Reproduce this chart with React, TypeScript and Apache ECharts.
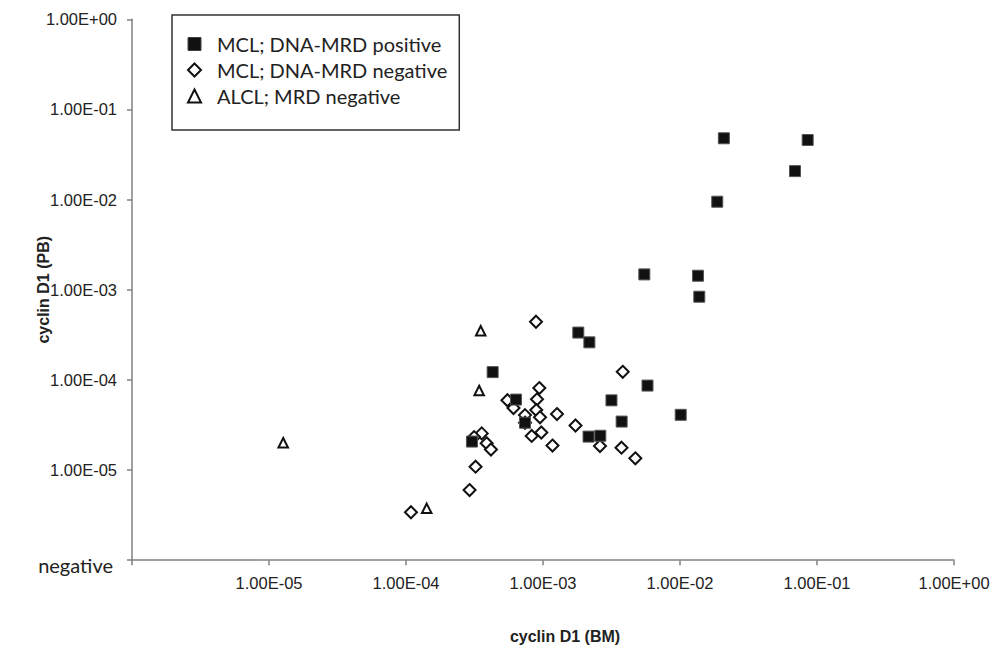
import React, { useEffect, useRef } from "react";
import * as echarts from "echarts";

// Series names (legend order)
const seriesNames = ["MCL; DNA-MRD positive", "MCL; DNA-MRD negative", "ALCL; MRD negative"];

// MCL; DNA-MRD positive (filled squares) — cyclin D1 in BM (x) and PB (y)
const mclPosBM = [0.0209, 0.0855, 0.0691, 0.0187, 0.00549, 0.01353, 0.01383, 0.00181, 0.00218, 0.00579, 0.00316, 0.01012, 0.00375, 0.00215, 0.00262, 0.000429, 0.000635, 0.000739, 0.000303];
const mclPosPB = [0.0479, 0.0458, 0.0207, 0.00947, 0.00148, 0.00143, 0.000837, 0.000335, 0.000261, 8.65e-5, 5.93e-5, 4.1e-5, 3.45e-5, 2.35e-5, 2.4e-5, 0.000122, 6.05e-5, 3.35e-5, 2.07e-5];

// MCL; DNA-MRD negative (open diamonds)
const mclNegBM = [0.000889, 0.00382, 0.00094, 0.00055, 0.000904, 0.000609, 0.000893, 0.000951, 0.001265, 0.000739, 0.001727, 0.000827, 0.000972, 0.001173, 0.002606, 0.00374, 0.00472, 0.000357, 0.000388, 0.000417, 0.000322, 0.000291, 0.0001087, 0.000314, 0.000739];
const mclNegPB = [0.000442, 0.000123, 8.12e-5, 5.95e-5, 6.09e-5, 4.88e-5, 4.63e-5, 3.85e-5, 4.18e-5, 4.07e-5, 3.12e-5, 2.39e-5, 2.61e-5, 1.87e-5, 1.85e-5, 1.77e-5, 1.35e-5, 2.55e-5, 1.98e-5, 1.69e-5, 1.09e-5, 6.0e-6, 3.4e-6, 2.32e-5, 3.35e-5];

// ALCL; MRD negative (open triangles)
const alclBM = [0.000351, 0.000342, 1.27e-5, 0.0001416];
const alclPB = [0.000351, 7.62e-5, 2.01e-5, 3.76e-6];

// Axis range; the lowest decade is the "negative" position
const axisMin = 1e-6;
const axisMax = 1;
const negativeLabel = "negative";
const xAxisTitle = "cyclin D1 (BM)";
const yAxisTitle = "cyclin D1 (PB)";

const zip = (xs: number[], ys: number[]) => xs.map((x, i) => [x, ys[i]]);

const sciLabel = (v: number) => {
  const e = Math.round(Math.log10(v));
  const sign = e >= 0 ? "+" : "-";
  return `1.00E${sign}${String(Math.abs(e)).padStart(2, "0")}`;
};

const isMin = (v: number) => Math.abs(Math.log10(v) - Math.log10(axisMin)) < 1e-6;

export default function App() {
  const ref = useRef<HTMLDivElement>(null);

  useEffect(() => {
    if (!ref.current) return;
    const chart = echarts.init(ref.current, undefined, { renderer: "svg" });
    const axisLineStyle = { color: "#808080", width: 1.5 };
    const labelFont = { fontFamily: "Liberation Sans, Arial, sans-serif", fontSize: 16.5, color: "#222" };
    const option: any = {
      animation: false,
      backgroundColor: "#ffffff",
      grid: { left: 132, right: 49, top: 19.3, bottom: 84.8, containLabel: false, outerBoundsMode: "none" },
      legend: {
        left: 172,
        top: 15,
        orient: "vertical",
        borderColor: "#333",
        borderWidth: 1.5,
        padding: [19, 12, 24, 15],
        itemGap: 6,
        itemWidth: 13,
        itemHeight: 13,
        textStyle: { fontFamily: "Lato, sans-serif", fontSize: 20, color: "#222", padding: [0, 0, 0, 11] },
        data: [
          { name: seriesNames[0], icon: "rect", itemStyle: { color: "#111", borderColor: "#444", borderWidth: 1 } },
          { name: seriesNames[1], icon: "diamond", itemStyle: { color: "#fff", borderColor: "#111", borderWidth: 2 } },
          { name: seriesNames[2], icon: "triangle", itemStyle: { color: "#fff", borderColor: "#111", borderWidth: 2 } },
        ],
      },
      xAxis: {
        type: "log",
        logBase: 10,
        min: axisMin,
        max: axisMax,
        splitNumber: 6,
        name: xAxisTitle,
        nameLocation: "middle",
        nameGap: 68,
        nameMoveOverlap: false,
        nameTextStyle: {
          fontFamily: "Liberation Sans, Arial, sans-serif",
          fontWeight: "bold",
          fontSize: 16,
          color: "#222",
          padding: [0, 0, 0, 44],
        },
        axisLine: { show: true, lineStyle: axisLineStyle },
        axisTick: { show: true, length: 5, lineStyle: axisLineStyle },
        splitLine: { show: false },
        minorTick: { show: false },
        axisLabel: {
          ...labelFont,
          margin: 14,
          showMinLabel: true,
          showMaxLabel: true,
          formatter: (v: number) => (isMin(v) ? "" : sciLabel(v)),
        },
      },
      yAxis: {
        type: "log",
        logBase: 10,
        min: axisMin,
        max: axisMax,
        splitNumber: 6,
        name: yAxisTitle,
        nameLocation: "middle",
        nameGap: 81,
        nameMoveOverlap: false,
        nameRotate: 90,
        nameTextStyle: {
          fontFamily: "Liberation Sans, Arial, sans-serif",
          fontWeight: "bold",
          fontSize: 16,
          color: "#222",
        },
        axisLine: { show: true, lineStyle: axisLineStyle },
        axisTick: { show: true, length: 5, lineStyle: axisLineStyle },
        splitLine: { show: false },
        minorTick: { show: false },
        axisLabel: {
          ...labelFont,
          margin: 15,
          showMinLabel: true,
          showMaxLabel: true,
          formatter: (v: number) => (isMin(v) ? `{neg|${negativeLabel}}` : sciLabel(v)),
          rich: {
            neg: { fontFamily: "Lato, sans-serif", fontSize: 20, color: "#222", padding: [10, 4, 0, 0] },
          },
        },
      },
      series: [
        {
          name: seriesNames[1],
          type: "scatter",
          symbol: "diamond",
          symbolSize: 12,
          itemStyle: { color: "#fff", borderColor: "#111", borderWidth: 2, opacity: 1 },
          data: zip(mclNegBM, mclNegPB),
          z: 2,
        },
        {
          name: seriesNames[2],
          type: "scatter",
          symbol: "triangle",
          symbolSize: 9.5,
          itemStyle: { color: "#fff", borderColor: "#111", borderWidth: 2, opacity: 1 },
          data: zip(alclBM, alclPB),
          z: 3,
        },
        {
          name: seriesNames[0],
          type: "scatter",
          symbol: "rect",
          symbolSize: 11,
          itemStyle: { color: "#111", borderColor: "#555", borderWidth: 1, opacity: 1 },
          data: zip(mclPosBM, mclPosPB),
          z: 4,
        },
      ],
    };
    chart.setOption(option);
    return () => chart.dispose();
  }, []);

  return (
    <div
      ref={ref}
      style={{ position: "fixed", left: 0, top: 0, width: 1003, height: 645, background: "#fff" }}
    />
  );
}
